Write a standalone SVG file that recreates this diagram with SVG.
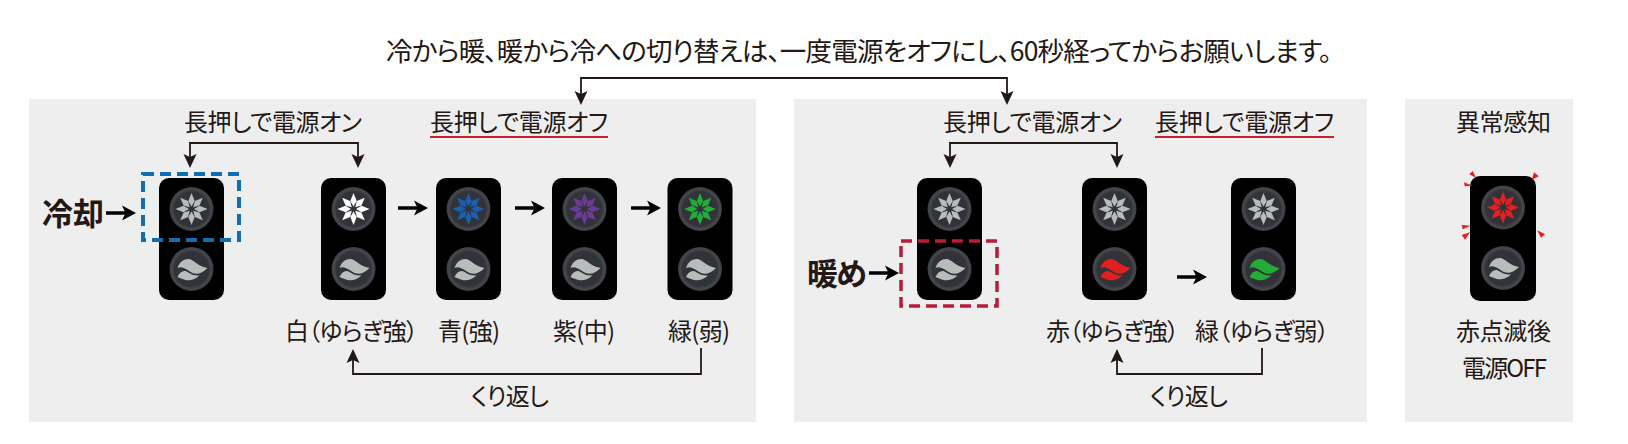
<svg xmlns="http://www.w3.org/2000/svg" width="1628" height="444" viewBox="0 0 1628 444">
<style>
text{font-family:"Noto Sans CJK JP","Noto Sans",sans-serif;fill:#231815;text-anchor:start;font-feature-settings:"palt"}
.l{font-size:24px}
.b{font-size:31px;font-weight:700}
.t{font-size:26.500px}
.c{fill:none;stroke:#231815;stroke-width:1.800}
.ar{fill:#231815}
.bd{fill:#000}
.on{fill:#babcbc}
.tick{fill:#e1201f}
</style>
<defs>
<radialGradient id="g" r="0.5">
<stop offset="0.78" stop-color="#313338"/><stop offset="0.9" stop-color="#46484d"/><stop offset="1" stop-color="#3a3c41"/>
</radialGradient>
<path id="petal" d="M0,-2.500L-3.200,-8L0,-16L3.200,-8Z"/>
<g id="star">
<use href="#petal"/><use href="#petal" transform="rotate(45)"/><use href="#petal" transform="rotate(90)"/><use href="#petal" transform="rotate(135)"/><use href="#petal" transform="rotate(180)"/><use href="#petal" transform="rotate(225)"/><use href="#petal" transform="rotate(270)"/><use href="#petal" transform="rotate(315)"/>
</g>
<g id="wave">
<path d="M-14,-1C-12,-7 -8,-10 -3,-10C2,-10 5,-3 16,-1C11,4 6,6 1,4C-3,2 -9,-4 -14,-1Z"/>
<path d="M-14,8C-12,3 -8,1 -5,2.500C-1,5 3,7 8,6.500C3,11 -2,12 -6,11C-9,10 -12,9 -14,8Z"/>
</g>
<g id="phone">
<rect x="-32.500" y="0" width="65" height="122" rx="10" class="bd"/>
<circle cx="0" cy="31" r="22" fill="url(#g)"/>
<circle cx="0" cy="91" r="22" fill="url(#g)"/>
</g>
<path id="ahd" d="M0,0L-6.500,-14L0,-11L6.500,-14Z" class="ar"/>
<g id="arr"><path d="M-30,0H-8" stroke="#000" stroke-width="3.500"/><path d="M0,0L-14,-7.500L-10.500,0L-14,7.500Z" fill="#000"/></g>
</defs>

<g id="panels">
<rect id="panel-cool" x="29" y="99" width="727" height="323" fill="#eeeeee"/>
<rect id="panel-warm" x="794" y="99" width="573" height="323" fill="#eeeeee"/>
<rect id="panel-error" x="1405" y="99" width="168" height="323" fill="#eeeeee"/>
</g>

<g id="connectors">
<path class="c" d="M581,100V78H1007V100"/>
<use href="#ahd" x="581" y="105"/><use href="#ahd" x="1007" y="105"/>
<path class="c" d="M190,160V143H358V160"/>
<use href="#ahd" x="190" y="168"/><use href="#ahd" x="358" y="168"/>
<path class="c" d="M950,160V143H1117V160"/>
<use href="#ahd" x="950" y="168"/><use href="#ahd" x="1117" y="168"/>
<use href="#arr" x="136" y="213"/>
<use href="#arr" x="428" y="208"/>
<use href="#arr" x="545" y="208"/>
<use href="#arr" x="661" y="208"/>
<use href="#arr" x="899" y="273"/>
<use href="#arr" x="1207" y="277"/>
<path class="c" d="M701,348V374H353V358"/>
<use href="#ahd" transform="translate(353,349) rotate(180)"/>
<path class="c" d="M1262,348V374H1117V358"/>
<use href="#ahd" transform="translate(1117,349) rotate(180)"/>
</g>

<g id="node-cool-off"><use href="#phone" x="191.500" y="178"/><use href="#star" x="191.500" y="209" class="on"/><use href="#wave" x="191.500" y="269" class="on"/></g>
<g id="node-cool-white"><use href="#phone" x="353.500" y="178"/><use href="#star" x="353.500" y="209" fill="#fff"/><use href="#wave" x="353.500" y="269" class="on"/></g>
<g id="node-cool-blue"><use href="#phone" x="468.500" y="178"/><use href="#star" x="468.500" y="209" fill="#1c5fb0"/><use href="#wave" x="468.500" y="269" class="on"/></g>
<g id="node-cool-purple"><use href="#phone" x="584.500" y="178"/><use href="#star" x="584.500" y="209" fill="#6a3c97"/><use href="#wave" x="584.500" y="269" class="on"/></g>
<g id="node-cool-green"><use href="#phone" x="700" y="178"/><use href="#star" x="700" y="209" fill="#22ac38"/><use href="#wave" x="700" y="269" class="on"/></g>
<g id="node-warm-off"><use href="#phone" x="949.500" y="178"/><use href="#star" x="949.500" y="209" class="on"/><use href="#wave" x="949.500" y="269" class="on"/></g>
<g id="node-warm-red"><use href="#phone" x="1114.500" y="178"/><use href="#star" x="1114.500" y="209" class="on"/><use href="#wave" x="1114.500" y="269" fill="#e1201f"/></g>
<g id="node-warm-green"><use href="#phone" x="1263.500" y="178"/><use href="#star" x="1263.500" y="209" class="on"/><use href="#wave" x="1263.500" y="269" fill="#22ac38"/></g>
<g id="node-error">
<rect x="1470" y="176" width="66" height="125" rx="10" class="bd"/>
<circle cx="1503" cy="207.500" r="22" fill="url(#g)"/>
<circle cx="1503" cy="268" r="22" fill="url(#g)"/>
<use href="#star" x="1503" y="207.500" fill="#e1201f"/><use href="#wave" x="1503" y="268" class="on"/>
<g class="tick">
<path d="M1476,177.700L1469.300,174.300L1472.700,171Z"/>
<path d="M1472.700,185.700L1464,182.300L1464.700,186.300Z"/>
<path d="M1531.700,180L1534,172.300L1538.700,176.300Z"/>
<path d="M1470.700,225.700L1461.700,225L1462.700,229.300Z"/>
<path d="M1470,232.300L1461.700,235L1465,239.700Z"/>
<path d="M1537.300,230.300L1545,234.300L1541,237.700Z"/>
</g></g>

<g id="dashes">
<rect x="143" y="174" width="96" height="66" fill="none" stroke="#0f6fb5" stroke-width="4" stroke-dasharray="11 6"/>
<rect x="901" y="241" width="96" height="65" fill="none" stroke="#b81c3a" stroke-width="3.500" stroke-dasharray="11 6"/>
<path d="M430,137H608M1155,137H1334" stroke="#c8202f" stroke-width="1.800" fill="none"/>
</g>

<g id="labels">
<text class="t" x="386" y="61" textLength="946" lengthAdjust="spacing">冷から暖、暖から冷への切り替えは、一度電源をオフにし、60秒経ってからお願いします。</text>
<text class="l" x="184" y="131" textLength="178" lengthAdjust="spacing">長押しで電源オン</text>
<text class="l" x="430" y="131" textLength="178" lengthAdjust="spacing">長押しで電源オフ</text>
<text class="l" x="943" y="131" textLength="179" lengthAdjust="spacing">長押しで電源オン</text>
<text class="l" x="1155" y="131" textLength="179" lengthAdjust="spacing">長押しで電源オフ</text>
<text class="l" x="1456" y="131" textLength="95" lengthAdjust="spacing">異常感知</text>
<text class="b" x="42" y="225" textLength="62" lengthAdjust="spacing">冷却</text>
<text class="b" x="807" y="285" textLength="60" lengthAdjust="spacing">暖め</text>
<text class="l" x="285" y="340" textLength="133" lengthAdjust="spacing">白（ゆらぎ強）</text>
<text class="l" x="438" y="340" textLength="62" lengthAdjust="spacing">青(強)</text>
<text class="l" x="553" y="340" textLength="62" lengthAdjust="spacing">紫(中)</text>
<text class="l" x="668" y="340" textLength="62" lengthAdjust="spacing">緑(弱)</text>
<text class="l" x="1046" y="340" textLength="133" lengthAdjust="spacing">赤（ゆらぎ強）</text>
<text class="l" x="1195" y="340" textLength="134" lengthAdjust="spacing">緑（ゆらぎ弱）</text>
<text class="l" x="471" y="405" textLength="78" lengthAdjust="spacing">くり返し</text>
<text class="l" x="1150" y="405" textLength="78" lengthAdjust="spacing">くり返し</text>
<text class="l" x="1456" y="340" textLength="95" lengthAdjust="spacing">赤点滅後</text>
<text class="l" x="1462" y="377" textLength="85" lengthAdjust="spacing">電源OFF</text>
</g>
</svg>
